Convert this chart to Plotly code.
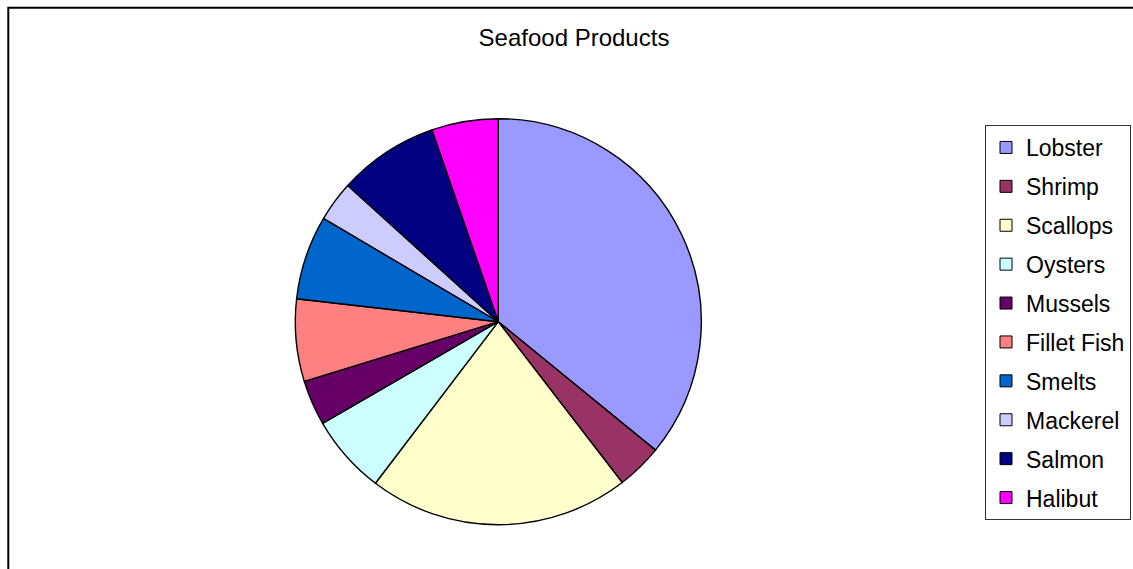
import plotly.graph_objects as go

# ---- data ----
labels = ["Lobster", "Shrimp", "Scallops", "Oysters", "Mussels",
          "Fillet Fish", "Smelts", "Mackerel", "Salmon", "Halibut"]
values = [35.9, 3.65, 20.8, 6.3, 3.6, 6.55, 6.7, 3.2, 8.0, 5.3]
colors = ["#9999FF", "#993366", "#FFFFCC", "#CCFFFF", "#660066",
          "#FF8080", "#0066CC", "#CCCCFF", "#000080", "#FF00FF"]
title_text = "Seafood Products"

W, H = 1133, 569
FONT = "Liberation Sans, Arial, sans-serif"

fig = go.Figure()

# pie: centre (498, 322), radius 203 px
cx, cy, r = 498.3, 321.7, 203
fig.add_trace(go.Pie(
    labels=labels, values=values,
    marker=dict(colors=colors, line=dict(color="black", width=1.4)),
    sort=False, direction="clockwise", rotation=0,
    textinfo="none", hoverinfo="label+percent",
    showlegend=False,
    domain=dict(x=[(cx - r) / W, (cx + r) / W],
                y=[(H - cy - r) / H, (H - cy + r) / H]),
))

# legend entries (one per category, so the item spacing can be set)
for lab, col in zip(labels, colors):
    fig.add_trace(go.Scatter(
        x=[None], y=[None], mode="markers", name=lab, legendgroup=lab,
        marker=dict(symbol="square", size=12, color=col,
                    line=dict(color="black", width=1)),
        hoverinfo="skip",
    ))

fig.update_layout(
    width=W, height=H,
    margin=dict(l=0, r=0, t=0, b=0),
    paper_bgcolor="white", plot_bgcolor="white",
    xaxis=dict(visible=False), yaxis=dict(visible=False),
    font=dict(family=FONT, color="black"),
    title=dict(text=title_text, x=574 / W, xanchor="center", xref="paper",
               y=(H - 38) / H, yanchor="middle", yref="paper",
               font=dict(family=FONT, size=24, color="black")),
    legend=dict(
        x=985 / W, xanchor="left", y=(H - 125) / H, yanchor="top",
        bgcolor="white", bordercolor="#333333", borderwidth=1,
        font=dict(family=FONT, size=23, color="black"),
        tracegroupgap=6, traceorder="grouped", itemclick=False,
    ),
    shapes=[dict(type="rect", xref="paper", yref="paper",
                 x0=8.3 / W, x1=1.02, y0=-0.02, y1=(H - 7.7) / H,
                 line=dict(color="black", width=2), layer="below")],
)

fig.write_html(
    "out.html",
    config={"displayModeBar": False},
    post_script="document.body.style.margin='0';"
                "document.documentElement.style.overflow='hidden';",
)
